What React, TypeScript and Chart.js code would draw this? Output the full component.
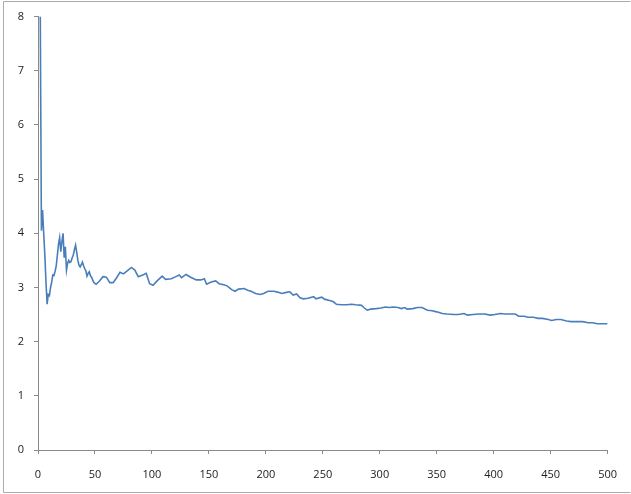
import React, { useEffect, useRef } from "react";
import { Chart, registerables } from "chart.js";

Chart.register(...registerables);

const xValues: number[] = [
  2, 3, 4, 5, 6, 7, 8, 9, 10, 11, 12, 13, 14, 15, 16, 17, 18, 19, 20, 21, 22, 23, 24, 25, 26, 27, 28, 29, 30,
  31, 32, 33, 34, 35, 36, 37, 38, 39, 40, 41, 42, 43, 44, 45, 46, 47, 48, 49, 51, 54, 57, 60, 63, 66, 69, 72,
  75, 78, 82, 85, 88, 92, 95, 98, 101, 105, 109, 112, 117, 121, 124, 126, 130, 134, 139, 143, 146, 148, 152,
  156, 159, 163, 166, 170, 173, 176, 181, 184, 187, 191, 195, 198, 202, 207, 211, 214, 218, 221, 224, 227,
  230, 233, 237, 242, 244, 249, 252, 256, 259, 262, 266, 271, 275, 279, 284, 286, 289, 292, 297, 301, 305,
  308, 312, 316, 319, 322, 324, 329, 333, 337, 342, 346, 350, 355, 359, 365, 369, 374, 377, 382, 387, 392,
  397, 401, 406, 410, 415, 419, 422, 427, 430, 435, 439, 443, 448, 451, 455, 459, 464, 468, 474, 478, 483,
  487, 491, 496, 500,
];

const yValues: number[] = [
  8.0, 4.05, 4.43, 4.0, 3.6, 3.1, 2.69, 2.87, 2.85, 3.0, 3.1, 3.23, 3.22, 3.3, 3.4, 3.6, 3.8, 3.92, 3.66, 3.85,
  4.0, 3.55, 3.75, 3.32, 3.45, 3.5, 3.46, 3.48, 3.55, 3.6, 3.7, 3.78, 3.65, 3.5, 3.41, 3.38, 3.42, 3.47, 3.4,
  3.35, 3.31, 3.21, 3.26, 3.29, 3.22, 3.19, 3.14, 3.09, 3.06, 3.12, 3.2, 3.19, 3.09, 3.09, 3.18, 3.28, 3.25,
  3.3, 3.37, 3.32, 3.2, 3.23, 3.26, 3.07, 3.04, 3.13, 3.21, 3.15, 3.16, 3.2, 3.23, 3.18, 3.24, 3.19, 3.14,
  3.14, 3.16, 3.06, 3.1, 3.12, 3.07, 3.05, 3.03, 2.96, 2.93, 2.97, 2.98, 2.95, 2.93, 2.89, 2.87, 2.89, 2.93,
  2.93, 2.91, 2.89, 2.91, 2.92, 2.86, 2.88, 2.81, 2.79, 2.8, 2.83, 2.79, 2.82, 2.78, 2.76, 2.74, 2.69, 2.68,
  2.68, 2.69, 2.68, 2.67, 2.63, 2.58, 2.6, 2.61, 2.62, 2.64, 2.63, 2.64, 2.63, 2.61, 2.63, 2.6, 2.61, 2.63,
  2.63, 2.58, 2.57, 2.55, 2.52, 2.51, 2.5, 2.5, 2.52, 2.49, 2.5, 2.51, 2.51, 2.49, 2.5, 2.52, 2.51, 2.51,
  2.51, 2.47, 2.47, 2.45, 2.45, 2.43, 2.43, 2.41, 2.39, 2.41, 2.41, 2.38, 2.37, 2.37, 2.37, 2.35, 2.35, 2.33,
  2.33, 2.33,
];

const xTicks: number[] = [0, 50, 100, 150, 200, 250, 300, 350, 400, 450, 500];
const yTicks: number[] = [0, 1, 2, 3, 4, 5, 6, 7, 8];

const frame = {
  id: "frame",
  beforeDraw(chart: any) {
    const ctx = chart.ctx;
    ctx.save();
    ctx.fillStyle = "#ffffff";
    ctx.fillRect(0, 0, chart.width, chart.height);
    ctx.strokeStyle = "#ababab";
    ctx.lineWidth = 1;
    ctx.beginPath();
    ctx.moveTo(3.5, 1.5);
    ctx.lineTo(630.5, 1.5);
    ctx.moveTo(3.5, 1.5);
    ctx.lineTo(3.5, 492.5);
    ctx.lineTo(630.5, 492.5);
    ctx.stroke();
    ctx.restore();
  },
};

export default function App() {
  const ref = useRef<HTMLCanvasElement | null>(null);
  useEffect(() => {
    if (!ref.current) return;
    const points = xValues.map((x, i) => ({ x, y: yValues[i] }));
    const font = { family: "'Open Sans', 'Liberation Sans', sans-serif", size: 11 };
    const chart = new Chart(ref.current, {
      type: "scatter",
      data: {
        datasets: [
          {
            data: points,
            showLine: true,
            borderColor: "#4a7ebb",
            backgroundColor: "#4a7ebb",
            borderWidth: 1.6,
            pointRadius: 0,
            tension: 0,
          },
        ],
      },
      options: {
        animation: false,
        responsive: false,
        layout: { padding: { left: 0, top: 16, right: 18, bottom: 0 } },
        plugins: { legend: { display: false }, tooltip: { enabled: false } },
        scales: {
          x: {
            type: "linear",
            min: 0,
            max: 500,
            afterFit: (s: any) => {
              s.height = 44;
            },
            afterBuildTicks: (s: any) => {
              s.ticks = xTicks.map((v) => ({ value: v }));
            },
            border: { display: true, color: "#8a8a8a", width: 1 },
            grid: { display: true, drawOnChartArea: false, drawTicks: true, tickLength: 4, color: "#8a8a8a" },
            ticks: { color: "#222", font, padding: 14, maxRotation: 0 },
          },
          y: {
            type: "linear",
            min: 0,
            max: 8,
            afterFit: (s: any) => {
              s.width = 38;
            },
            afterBuildTicks: (s: any) => {
              s.ticks = yTicks.map((v) => ({ value: v }));
            },
            border: { display: true, color: "#8a8a8a", width: 1 },
            grid: { display: true, drawOnChartArea: false, drawTicks: true, tickLength: 4, color: "#8a8a8a" },
            ticks: { color: "#222", font, padding: 10 },
          },
        },
      },
      plugins: [frame],
    });
    return () => chart.destroy();
  }, []);
  return (
    <div style={{ position: "absolute", left: 0, top: 0, width: 631, height: 494 }}>
      <canvas ref={ref} width={631} height={494} style={{ display: "block" }} />
    </div>
  );
}
